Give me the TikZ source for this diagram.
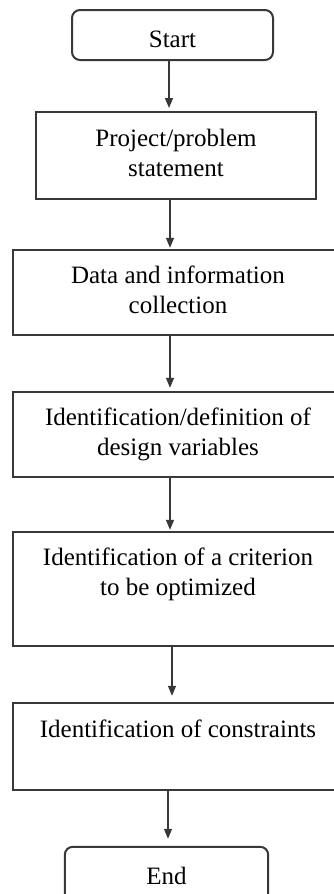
\documentclass[tikz,border=0pt]{standalone}
\usepackage{fontspec}
\setmainfont{Liberation Serif}
\usetikzlibrary{arrows.meta}
\definecolor{linegray}{HTML}{383838}
\tikzset{
  every node/.style={font=\fontsize{25}{30}\selectfont, inner sep=0pt},
  stepbox/.style={align=center, minimum width=330pt, minimum height=85pt},
  outline/.style={draw=linegray, line width=2pt},
  termbox/.style={outline, rounded corners=8pt,
    minimum height=50pt, text height=24pt, text depth=0pt},
  flow/.style={draw=linegray, line width=1.3pt,
    -{Triangle[length=10pt,width=8pt]}}
}
\begin{document}
\begin{tikzpicture}[x=1pt,y=1pt]
  \useasboundingbox (0,0) rectangle (334,-894);
  \clip (0,0) rectangle (334,-894);

  % terminals and process steps, top to bottom
  \node[termbox, minimum width=201pt] (start) at (172.5,-35) {Start};
  \node[stepbox, outline, minimum width=280pt, minimum height=87pt] (proj) at (176,-155.5)
    {\strut Project/problem\\\strut statement};
  \node[stepbox] (data) at (178,-292.5)
    {\strut Data and information\\\strut collection};
  \node[stepbox] (ident) at (178,-434.5)
    {\strut Identification/definition of\\\strut design variables};
  \node[stepbox, minimum height=114pt] (crit) at (178,-589)
    {\strut Identification of a criterion\\\strut to be optimized\\\strut};
  \node[stepbox, minimum height=87pt] (cons) at (178,-746.5)
    {\strut Identification of constraints\\\strut};
  \node[align=center, minimum width=203pt, text height=24pt, text depth=0pt,
    minimum height=50pt] (end) at (166.5,-872) {End};

  % the wide boxes run past the right edge, the last one past the bottom
  \coordinate (rim) at (336,0);
  \coordinate (floor) at (0,-896);
  \foreach \b in {data,ident,crit,cons}
    \draw[outline] (\b.north -| rim) -- (\b.north west)
      -- (\b.south west) -- (\b.south -| rim);
  \draw[outline, rounded corners=8pt] (end.west |- floor) -- (end.north west)
    -- (end.north east) -- (end.east |- floor);

  % x positions of the connecting arrows
  \coordinate (a1) at (169,0);
  \coordinate (a2) at (170,0);
  \coordinate (a5) at (172,0);
  \coordinate (a6) at (168,0);

  \draw[flow, shorten >=3pt] (start.south -| a1) -- (proj.north -| a1);
  \draw[flow, shorten >=2pt] (proj.south -| a2) -- (data.north -| a2);
  \draw[flow, shorten >=4pt] (data.south -| a2) -- (ident.north -| a2);
  \draw[flow, shorten >=2pt] (ident.south -| a2) -- (crit.north -| a2);
  \draw[flow, shorten >=7pt] (crit.south -| a5) -- (cons.north -| a5);
  \draw[flow, shorten >=8pt] (cons.south -| a6) -- (end.north -| a6);
\end{tikzpicture}
\end{document}
